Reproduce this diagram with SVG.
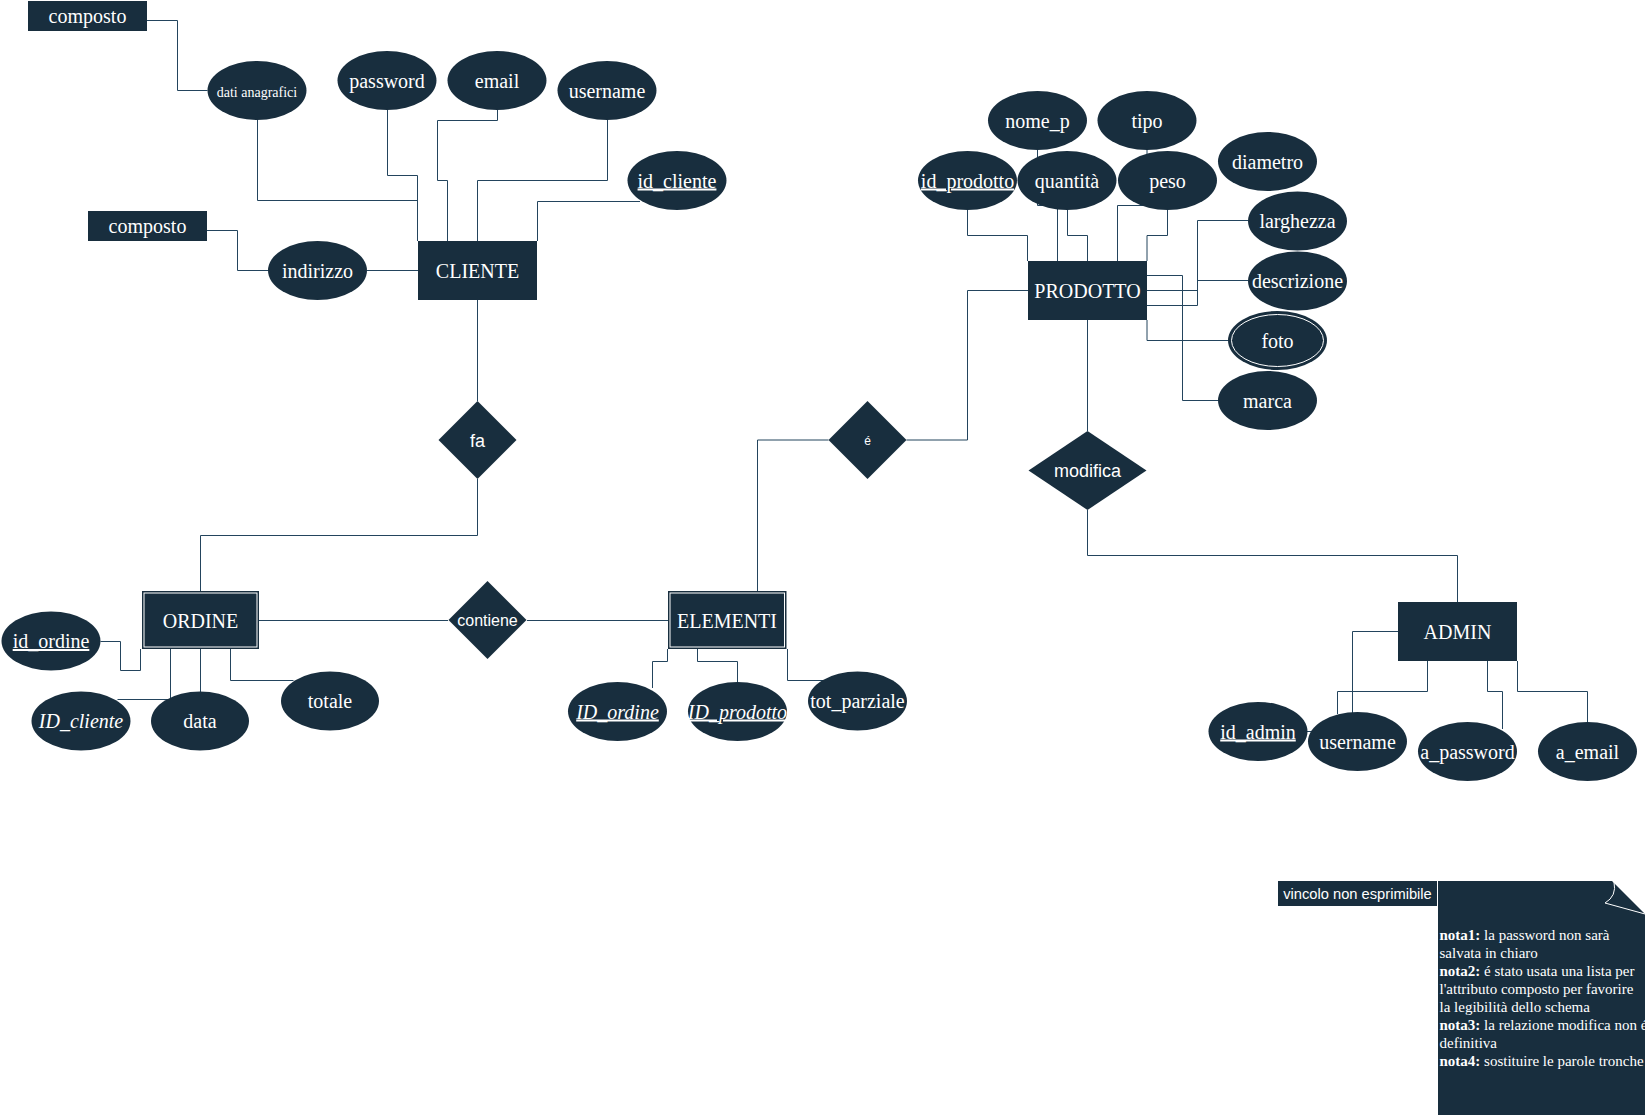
<svg xmlns="http://www.w3.org/2000/svg" width="1648" height="1115" viewBox="0 0 1648 1115">
<style>
.bg{fill:#ffffff}
.sh{fill:#182E3E;stroke:none}
.ln{fill:none;stroke:#23445D;stroke-width:1}
.t{fill:#ffffff;font-family:"Liberation Serif",serif;font-size:20px;text-anchor:middle}
.ts{fill:#ffffff;font-family:"Liberation Sans",Arial,sans-serif;text-anchor:middle}
.u{text-decoration:underline}
.i{font-style:italic}
.wb{fill:none;stroke:#ffffff;stroke-width:1}
.nt{fill:#ffffff;font-family:"Liberation Serif",serif;font-size:15px}
.nt .b{font-weight:bold}
</style>
<rect class="bg" x="0" y="0" width="1648" height="1115"/>
<g id="connectors">
  <path class="ln" d="M147,20.5 H177.5 V90.5 H207.5"/>
  <path class="ln" d="M207,230.5 H237.5 V270.5 H268"/>
  <path class="ln" d="M367,270.5 H418"/>
  <path class="ln" d="M257.5,120 V200.5 H417.5"/>
  <path class="ln" d="M387.5,110 V175.5 H417.5 V241"/>
  <path class="ln" d="M497.5,110 V120.5 H437.5 V180.5 H447.5 V241"/>
  <path class="ln" d="M477.5,241 V180.5 H607.5 V120"/>
  <path class="ln" d="M537.5,241 V201.5 H640"/>
  <path class="ln" d="M477.5,300 V401"/>
  <path class="ln" d="M477.5,479 V535.5 H200.5 V591"/>
  <path class="ln" d="M259,620.5 H448"/>
  <path class="ln" d="M527,620.5 H668"/>
  <path class="ln" d="M906.5,440 H967.5 V290.5 H1028"/>
  <path class="ln" d="M828.5,440 H757.5 V591"/>
  <path class="ln" d="M967.5,210 V235.5 H1027.5 V261"/>
  <path class="ln" d="M1037.5,150 V205.5 H1057.5 V261"/>
  <path class="ln" d="M1067.5,210 V235.5 H1087.5 V261"/>
  <path class="ln" d="M1147,150 V205.5 H1117.5 V261"/>
  <path class="ln" d="M1167.5,210 V235.5 H1147 V261"/>
  <path class="ln" d="M1248,220.5 H1197.5 V305.5 H1147"/>
  <path class="ln" d="M1147,290.5 H1197.5 V280.5 H1248"/>
  <path class="ln" d="M1147,275.5 H1182.5 V400.5 H1218"/>
  <path class="ln" d="M1147,320 V340.5 H1228"/>
  <path class="ln" d="M1087.5,320 V431"/>
  <path class="ln" d="M1087.5,510 V555.5 H1457.5 V602"/>
  <path class="ln" d="M100.5,641.5 H120.5 V670.5 H140.5 V649"/>
  <path class="ln" d="M170.5,649 V699.5 H117.5"/>
  <path class="ln" d="M200.5,649 V692"/>
  <path class="ln" d="M230.5,649 V680.5 H293.5"/>
  <path class="ln" d="M667.5,649 V661.5 H652.5 V688"/>
  <path class="ln" d="M697.5,649 V661.5 H737.5 V682"/>
  <path class="ln" d="M787.5,649 V680.5 H823.5"/>
  <path class="ln" d="M1398,631.5 H1352.5 V731.5 H1307"/>
  <path class="ln" d="M1427.5,661 V691.5 H1337.5 V714"/>
  <path class="ln" d="M1487.5,661 V691.5 H1502.5 V729"/>
  <path class="ln" d="M1517.5,661 V691.5 H1587.5 V722"/>
</g>

<g id="composto1"><rect class="sh" x="28" y="1" width="119" height="30"/><text class="t" x="87.5" y="22.5">composto</text></g>
<g id="composto2"><rect class="sh" x="88" y="211" width="119" height="30"/><text class="t" x="147.5" y="232.5">composto</text></g>
<g id="dati_anagrafici"><ellipse class="sh" cx="257" cy="90.5" rx="49.5" ry="29.5"/><text class="t" x="257" y="97" style="font-size:14px">dati anagrafici</text></g>
<g id="password"><ellipse class="sh" cx="387" cy="80.5" rx="49.5" ry="29.5"/><text class="t" x="387" y="87.5">password</text></g>
<g id="email"><ellipse class="sh" cx="497" cy="80.5" rx="49.5" ry="29.5"/><text class="t" x="497" y="87.5">email</text></g>
<g id="username"><ellipse class="sh" cx="607" cy="90.5" rx="49.5" ry="29.5"/><text class="t" x="607" y="97.5">username</text></g>
<g id="id_cliente"><ellipse class="sh" cx="677" cy="180.5" rx="49.5" ry="29.5"/><text class="t u" x="677" y="187.5">id_cliente</text></g>
<g id="indirizzo"><ellipse class="sh" cx="317.5" cy="270.5" rx="49.5" ry="29.5"/><text class="t" x="317.5" y="277.5">indirizzo</text></g>
<g id="cliente"><rect class="sh" x="418" y="241" width="119" height="59"/><text class="t" x="477.5" y="278">CLIENTE</text></g>

<g id="nome_p"><ellipse class="sh" cx="1037.5" cy="120.5" rx="49.5" ry="29.5"/><text class="t" x="1037.5" y="127.5">nome_p</text></g>
<g id="tipo"><ellipse class="sh" cx="1147" cy="120.5" rx="49.5" ry="29.5"/><text class="t" x="1147" y="127.5">tipo</text></g>
<g id="id_prodotto"><ellipse class="sh" cx="967.5" cy="180.5" rx="49.5" ry="29.5"/><text class="t u" x="967.5" y="187.5">id_prodotto</text></g>
<g id="quantita"><ellipse class="sh" cx="1067" cy="180.5" rx="49.5" ry="29.5"/><text class="t" x="1067" y="187.5">quantità</text></g>
<g id="peso"><ellipse class="sh" cx="1167.5" cy="180.5" rx="49.5" ry="29.5"/><text class="t" x="1167.5" y="187.5">peso</text></g>
<g id="diametro"><ellipse class="sh" cx="1267.5" cy="161.5" rx="49.5" ry="29.5"/><text class="t" x="1267.5" y="168.5">diametro</text></g>
<g id="larghezza"><ellipse class="sh" cx="1297.5" cy="221" rx="49.5" ry="29.5"/><text class="t" x="1297.5" y="228">larghezza</text></g>
<g id="descrizione"><ellipse class="sh" cx="1297.5" cy="281" rx="49.5" ry="29.5"/><text class="t" x="1297.5" y="288">descrizione</text></g>
<g id="foto"><ellipse class="sh" cx="1277.5" cy="340.5" rx="49.5" ry="29.5"/><ellipse class="wb" cx="1277.5" cy="340.5" rx="46" ry="26"/><text class="t" x="1277.5" y="347.5">foto</text></g>
<g id="marca"><ellipse class="sh" cx="1267.5" cy="400.5" rx="49.5" ry="29.5"/><text class="t" x="1267.5" y="407.5">marca</text></g>
<g id="prodotto"><rect class="sh" x="1028" y="261" width="119" height="59"/><text class="t" x="1087.5" y="298">PRODOTTO</text></g>

<g id="fa"><polygon class="sh" points="477.5,401 516.5,440 477.5,479 438.5,440"/><text class="ts" x="477.5" y="446.5" style="font-size:18px">fa</text></g>
<g id="e_rel"><polygon class="sh" points="867.5,401 906.5,440 867.5,479 828.5,440"/><text class="ts" x="867.5" y="444.5" style="font-size:12px">é</text></g>
<g id="modifica"><polygon class="sh" points="1087.5,431 1146.5,470.5 1087.5,510 1028.5,470.5"/><text class="ts" x="1087.5" y="477" style="font-size:18px">modifica</text></g>
<g id="contiene"><polygon class="sh" points="487.5,581 526.5,620 487.5,659 448.5,620"/><text class="ts" x="487.5" y="625.5" style="font-size:16px">contiene</text></g>

<g id="ordine"><rect class="sh" x="142" y="591" width="117" height="58"/><rect class="wb" x="144" y="593" width="113" height="54"/><text class="t" x="200.5" y="628">ORDINE</text></g>
<g id="id_ordine"><ellipse class="sh" cx="51" cy="641" rx="49.5" ry="29.5"/><text class="t u" x="51" y="648">id_ordine</text></g>
<g id="ID_cliente"><ellipse class="sh" cx="81" cy="721" rx="49.5" ry="29.5"/><text class="t i" x="81" y="728">ID_cliente</text></g>
<g id="data"><ellipse class="sh" cx="200" cy="721" rx="49" ry="29.5"/><text class="t" x="200" y="728">data</text></g>
<g id="totale"><ellipse class="sh" cx="330" cy="701" rx="49" ry="29.5"/><text class="t" x="330" y="708">totale</text></g>

<g id="elementi"><rect class="sh" x="668" y="591" width="118.5" height="58"/><rect class="wb" x="670" y="593" width="114.5" height="54"/><text class="t" x="727" y="628">ELEMENTI</text></g>
<g id="ID_ordine"><ellipse class="sh" cx="617.5" cy="711.5" rx="49.5" ry="29.5"/><text class="t i u" x="617.5" y="718.5">ID_ordine</text></g>
<g id="ID_prodotto"><ellipse class="sh" cx="737.5" cy="711.5" rx="49.5" ry="29.5"/><text class="t i u" x="737.5" y="718.5">ID_prodotto</text></g>
<g id="tot_parziale"><ellipse class="sh" cx="857.5" cy="701" rx="49.5" ry="29.5"/><text class="t" x="857.5" y="708">tot_parziale</text></g>

<g id="admin"><rect class="sh" x="1398" y="602" width="119" height="59"/><text class="t" x="1457.5" y="639">ADMIN</text></g>
<g id="id_admin"><ellipse class="sh" cx="1258" cy="731.5" rx="49.5" ry="29.5"/><text class="t u" x="1258" y="738.5">id_admin</text></g>
<g id="username_admin"><ellipse class="sh" cx="1357.5" cy="741.5" rx="49.5" ry="29.5"/><text class="t" x="1357.5" y="748.5">username</text></g>
<g id="a_password"><ellipse class="sh" cx="1467.5" cy="751.5" rx="49.5" ry="29.5"/><text class="t" x="1467.5" y="758.5">a_password</text></g>
<g id="a_email"><ellipse class="sh" cx="1587.5" cy="751.5" rx="49.5" ry="29.5"/><text class="t" x="1587.5" y="758.5">a_email</text></g>

<g id="vincolo"><rect class="sh" x="1278" y="881" width="159" height="25"/><text class="ts" x="1357.5" y="898.5" style="font-size:14.7px">vincolo non esprimibile</text></g>
<g id="note">
  <path class="sh" d="M1438,881 H1612 L1645,914 V1115 H1438 Z"/>
  <path class="wb" d="M1614,882 Q1617,896 1605,903 L1645,914"/>
  <text class="nt" x="1439.5" y="940"><tspan class="b">nota1:</tspan> la password non sarà</text>
  <text class="nt" x="1439.5" y="958">salvata in chiaro</text>
  <text class="nt" x="1439.5" y="976"><tspan class="b">nota2:</tspan> é stato usata una lista per</text>
  <text class="nt" x="1439.5" y="994">l'attributo composto per favorire</text>
  <text class="nt" x="1439.5" y="1012">la legibilità dello schema</text>
  <text class="nt" x="1439.5" y="1030"><tspan class="b">nota3:</tspan> la relazione modifica non é</text>
  <text class="nt" x="1439.5" y="1048">definitiva</text>
  <text class="nt" x="1439.5" y="1066"><tspan class="b">nota4:</tspan> sostituire le parole tronche</text>
</g>
</svg>
